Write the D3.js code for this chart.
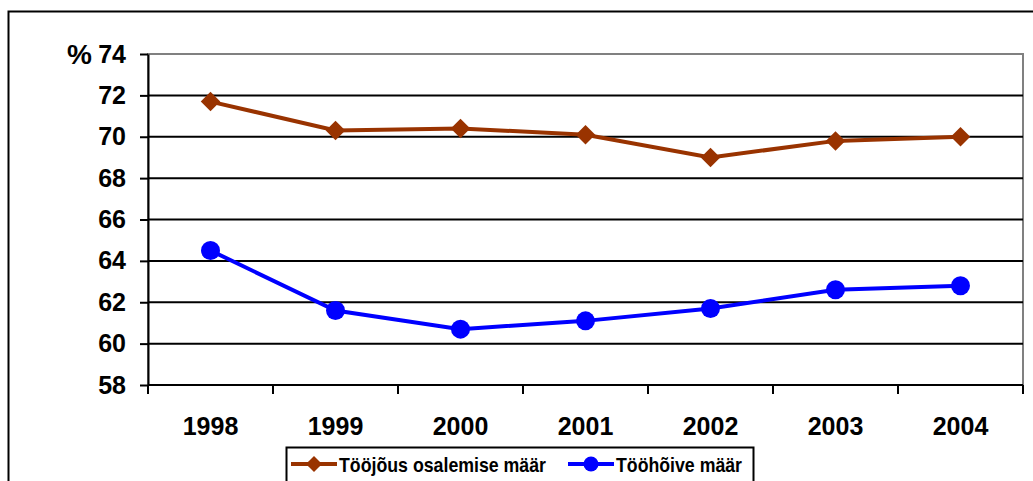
<!DOCTYPE html>
<html>
<head>
<meta charset="utf-8">
<script src="https://cdn.jsdelivr.net/npm/d3@7"></script>
<style>
  body { margin: 0; background: #fff; }
  svg { font-family: "Liberation Sans", Arial, sans-serif; font-weight: bold; }
</style>
</head>
<body>
<div id="plot"></div>
<script>
const FRAME_WIDTH = 1033;
const FRAME_HEIGHT = 481;
const MARGIN = {left: 148, right: 10, top: 54, bottom: 96};

const years = ["1998", "1999", "2000", "2001", "2002", "2003", "2004"];
const participation = [71.7, 70.3, 70.4, 70.1, 69.0, 69.8, 70.0];
const employment = [64.5, 61.6, 60.7, 61.1, 61.7, 62.6, 62.8];
const yTicks = [58, 60, 62, 64, 66, 68, 70, 72, 74];
const seriesNames = ["Tööjõus osalemise määr", "Tööhõive määr"];

const BROWN = "#993300";
const BLUE = "#0000ff";

const VIS_WIDTH = FRAME_WIDTH - MARGIN.left - MARGIN.right;
const VIS_HEIGHT = FRAME_HEIGHT - MARGIN.top - MARGIN.bottom;

const FRAME = d3.select("#plot")
  .append("svg")
    .attr("width", FRAME_WIDTH)
    .attr("height", FRAME_HEIGHT);

// outer chart border (runs off the picture right and bottom)
FRAME.append("rect")
  .attr("x", 8.5).attr("y", 11.5)
  .attr("width", 1040).attr("height", 500)
  .attr("fill", "none").attr("stroke", "#000").attr("stroke-width", 2);

const X_SCALE = d3.scaleBand().domain(years).range([0, VIS_WIDTH]);
const Y_SCALE = d3.scaleLinear().domain([58, 74]).range([VIS_HEIGHT, 0]);

const G = FRAME.append("g")
  .attr("transform", "translate(" + MARGIN.left + "," + MARGIN.top + ")");

// plot border (gray)
G.append("rect")
  .attr("x", 0).attr("y", 0)
  .attr("width", VIS_WIDTH).attr("height", VIS_HEIGHT)
  .attr("fill", "none").attr("stroke", "#808080").attr("stroke-width", 2);

// gridlines
G.selectAll(".grid")
  .data(yTicks.filter(d => d > 58 && d < 74))
  .enter()
  .append("line")
    .attr("x1", 0).attr("x2", VIS_WIDTH)
    .attr("y1", d => Y_SCALE(d)).attr("y2", d => Y_SCALE(d))
    .attr("stroke", "#000").attr("stroke-width", 2);

// y axis
const yAxis = G.append("g")
  .call(d3.axisLeft(Y_SCALE).tickValues(yTicks).tickSize(8).tickPadding(14).tickSizeOuter(0));
yAxis.selectAll("text").attr("font-size", "25px").attr("font-weight", "bold")
  .attr("font-family", "Liberation Sans, Arial, sans-serif").attr("fill", "#000");
yAxis.selectAll("line, path").attr("stroke", "#000").attr("stroke-width", 2);

G.append("text")
  .attr("x", -56).attr("y", Y_SCALE(74))
  .attr("dy", "0.35em")
  .attr("text-anchor", "end")
  .attr("font-size", "28px")
  .text("%");

// x axis with ticks at category boundaries
const xAxisG = G.append("g").attr("transform", "translate(0," + VIS_HEIGHT + ")");
xAxisG.append("line")
  .attr("x1", 0).attr("x2", VIS_WIDTH)
  .attr("stroke", "#000").attr("stroke-width", 2);
const bounds = years.map(d => X_SCALE(d)).concat([VIS_WIDTH]);
xAxisG.selectAll(".xtick")
  .data(bounds)
  .enter()
  .append("line")
    .attr("x1", d => d).attr("x2", d => d)
    .attr("y1", 0).attr("y2", 9)
    .attr("stroke", "#000").attr("stroke-width", 2);
xAxisG.selectAll(".xlabel")
  .data(years)
  .enter()
  .append("text")
    .attr("x", d => X_SCALE(d) + X_SCALE.bandwidth() / 2)
    .attr("y", 50)
    .attr("text-anchor", "middle")
    .attr("font-size", "25px")
    .text(d => d);

const cx = (d, i) => X_SCALE(years[i]) + X_SCALE.bandwidth() / 2;
const line = d3.line().x(cx).y(d => Y_SCALE(d));

// participation rate
G.append("path")
  .datum(participation)
  .attr("d", line)
  .attr("fill", "none").attr("stroke", BROWN).attr("stroke-width", 4);
G.selectAll(".diamond")
  .data(participation)
  .enter()
  .append("path")
    .attr("d", d3.symbol().type(d3.symbolSquare).size(190))
    .attr("transform", (d, i) => "translate(" + cx(d, i) + "," + Y_SCALE(d) + ") rotate(45)")
    .attr("fill", BROWN);

// employment rate
G.append("path")
  .datum(employment)
  .attr("d", line)
  .attr("fill", "none").attr("stroke", BLUE).attr("stroke-width", 4);
G.selectAll(".dot")
  .data(employment)
  .enter()
  .append("circle")
    .attr("cx", cx)
    .attr("cy", d => Y_SCALE(d))
    .attr("r", 9.5)
    .attr("fill", BLUE);

// legend
const LEG = FRAME.append("g");
LEG.append("rect")
  .attr("x", 286.5).attr("y", 447.5)
  .attr("width", 467).attr("height", 60)
  .attr("fill", "#fff").attr("stroke", "#000").attr("stroke-width", 2);

const legendItems = [
  {name: seriesNames[0], color: BROWN, x: 291, type: "diamond", w: 207},
  {name: seriesNames[1], color: BLUE, x: 568, type: "circle", w: 126}
];
legendItems.forEach(it => {
  const ly = 464;
  LEG.append("line")
    .attr("x1", it.x).attr("x2", it.x + 46)
    .attr("y1", ly).attr("y2", ly)
    .attr("stroke", it.color).attr("stroke-width", 4);
  if (it.type === "diamond") {
    LEG.append("path")
      .attr("d", d3.symbol().type(d3.symbolSquare).size(130))
      .attr("transform", "translate(" + (it.x + 23) + "," + ly + ") rotate(45)")
      .attr("fill", it.color);
  } else {
    LEG.append("circle")
      .attr("cx", it.x + 23).attr("cy", ly).attr("r", 7.5)
      .attr("fill", it.color);
  }
  LEG.append("text")
    .attr("x", it.x + 48).attr("y", ly)
    .attr("dy", "0.36em")
    .attr("font-size", "21px")
    .attr("textLength", it.w)
    .attr("lengthAdjust", "spacingAndGlyphs")
    .text(it.name);
});
</script>
</body>
</html>
